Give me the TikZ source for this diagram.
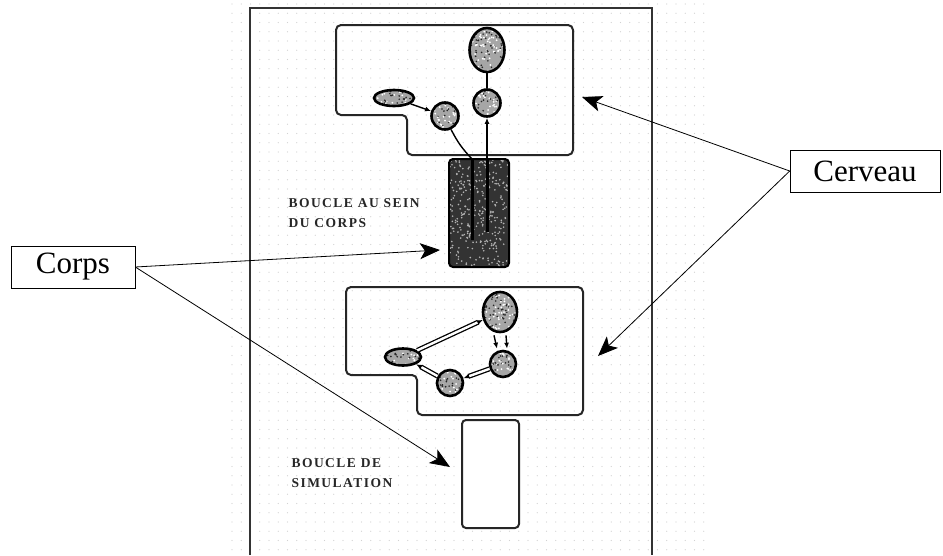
\documentclass[tikz,border=0pt]{standalone}
\usepackage{fontspec}
\setmainfont{Liberation Serif}
\newfontfamily\capfont[LetterSpace=11]{Liberation Serif}
\usetikzlibrary{arrows.meta,calc,shapes.geometric}
\tikzset{
  lbl/.style={draw=black, line width=0.6pt, fill=white, minimum height=42pt, inner sep=0pt, font=\fontsize{31}{34}\selectfont},
  ptr/.style={draw=black, line width=0.8pt, -{Stealth[length=20pt,width=16pt,inset=5pt]}},
  brainbox/.style={draw=black!85, line width=2pt, rounded corners=5pt},
  blob/.style={draw=black, line width=2.6pt, fill=gray!70, inner sep=0pt,
    path picture={
      \foreach \k in {1,...,70}{
        \fill[white] (path picture bounding box.center) ++({44*rnd-22},{44*rnd-22}) circle (1);
        \fill[black!85] (path picture bounding box.center) ++({44*rnd-22},{44*rnd-22}) circle (0.9);
      }
    }},
  wire/.style={draw=black, line width=1.4pt},
  dwire/.style={draw=black, line width=1.3pt, double=white, double distance=2.4pt},
  tip/.style={-{Latex[length=6pt,width=5pt]}},
  captxt/.style={anchor=west, font=\capfont\bfseries\fontsize{13.5}{15}\selectfont, text=black!85},
}
\begin{document}
\begin{tikzpicture}[x=1pt,y=-1pt]
\pgfmathsetseed{11}
\useasboundingbox (0,0) rectangle (943,555);
\fill[white] (0,0) rectangle (943,555);
% dotted scan background
\foreach \i in {0,...,51}{
  \foreach \j in {0,...,59}{
    \fill[gray!35] ({232+\i*9.25},{4+\j*9.25}) circle (0.55);
  }
}
% scan frame
\draw[black!80, line width=1.6pt] (250,555) -- (250,8) -- (652,8) -- (652,555);

% ---------- upper diagram ----------
\draw[brainbox] (336,25) -- (573,25) -- (573,155) -- (407,155) -- (407,115) -- (336,115) -- cycle;
\node[draw=black, line width=2pt, rounded corners=4pt, fill=black!80, minimum width=60pt, minimum height=108pt, inner sep=0pt] (body) at (479,213) {};
\begin{scope}
  \clip[rounded corners=4pt] (450,160) rectangle (508,266);
  \foreach \k in {1,...,320}{
    \pgfmathsetmacro\px{450+58*rnd}
    \pgfmathsetmacro\py{160+106*rnd}
    \fill[gray!60] (\px,\py) circle (0.9);
  }
\end{scope}
\draw[black, line width=3pt] (472,160) -- (472,240);
\draw[black, line width=3pt] (487,160) -- (487,232);

\node[blob, ellipse, minimum width=35pt, minimum height=44pt] (o1) at (487,50) {};
\node[blob, circle, minimum size=27pt] (c1) at (487,103) {};
\node[blob, ellipse, minimum width=40pt, minimum height=16pt] (e1) at (394,98) {};
\node[blob, circle, minimum size=27pt] (c2) at (445,116) {};
\coordinate (b1) at (472,159);
\coordinate (b2) at (487,159);
\draw[wire, tip] (e1) -- (c2);
\draw[wire] (b1) to[bend left=8] (c2);
\draw[wire, tip] (b2) -- (c1);
\draw[wire] (c1) -- (o1);

\node[captxt] (t1) at (285,203) {BOUCLE AU SEIN};
\node[captxt] (t2) at (285,223) {DU CORPS};

% ---------- lower diagram ----------
\draw[brainbox] (346,287) -- (583,287) -- (583,415) -- (417,415) -- (417,375) -- (346,375) -- cycle;
\node[blob, ellipse, minimum width=34pt, minimum height=40pt] (o2) at (500,312) {};
\node[blob, circle, minimum size=26pt] (c3) at (503,364) {};
\node[blob, circle, minimum size=26pt] (c4) at (450,383) {};
\node[blob, ellipse, minimum width=36pt, minimum height=17pt] (e2) at (403,357) {};
\draw[dwire, tip] (e2) -- (o2);
\draw[wire, tip] ($(o2.south)+(-6,2)$) -- ($(c3.north)+(-6,-1)$);
\draw[wire, tip] ($(o2.south)+(6,2)$) -- ($(c3.north)+(4,-1)$);
\draw[dwire, tip] (c3) -- (c4);
\draw[dwire, tip] (c4) -- (e2);

\node[draw=black!85, line width=2pt, rounded corners=4pt, fill=white, minimum width=57pt, minimum height=108pt, inner sep=0pt] (sim) at (490.5,474) {};
\node[captxt] (t3) at (288,463) {BOUCLE DE};
\node[captxt] (t4) at (288,483) {SIMULATION};

% ---------- labels ----------
\node[lbl, minimum width=124pt] (corps) at (73,267) {Corps};
\node[lbl, minimum width=150pt] (cerveau) at (865,171) {Cerveau};
\coordinate (pb) at (440,250);
\coordinate (ps) at (450,467);
\coordinate (pu) at (582,97);
\coordinate (pl) at (598,356);
\draw[ptr] (corps.east) -- (pb);
\draw[ptr] (corps.east) -- (ps);
\draw[ptr] (cerveau.west) -- (pu);
\draw[ptr] (cerveau.west) -- (pl);
\end{tikzpicture}
\end{document}
